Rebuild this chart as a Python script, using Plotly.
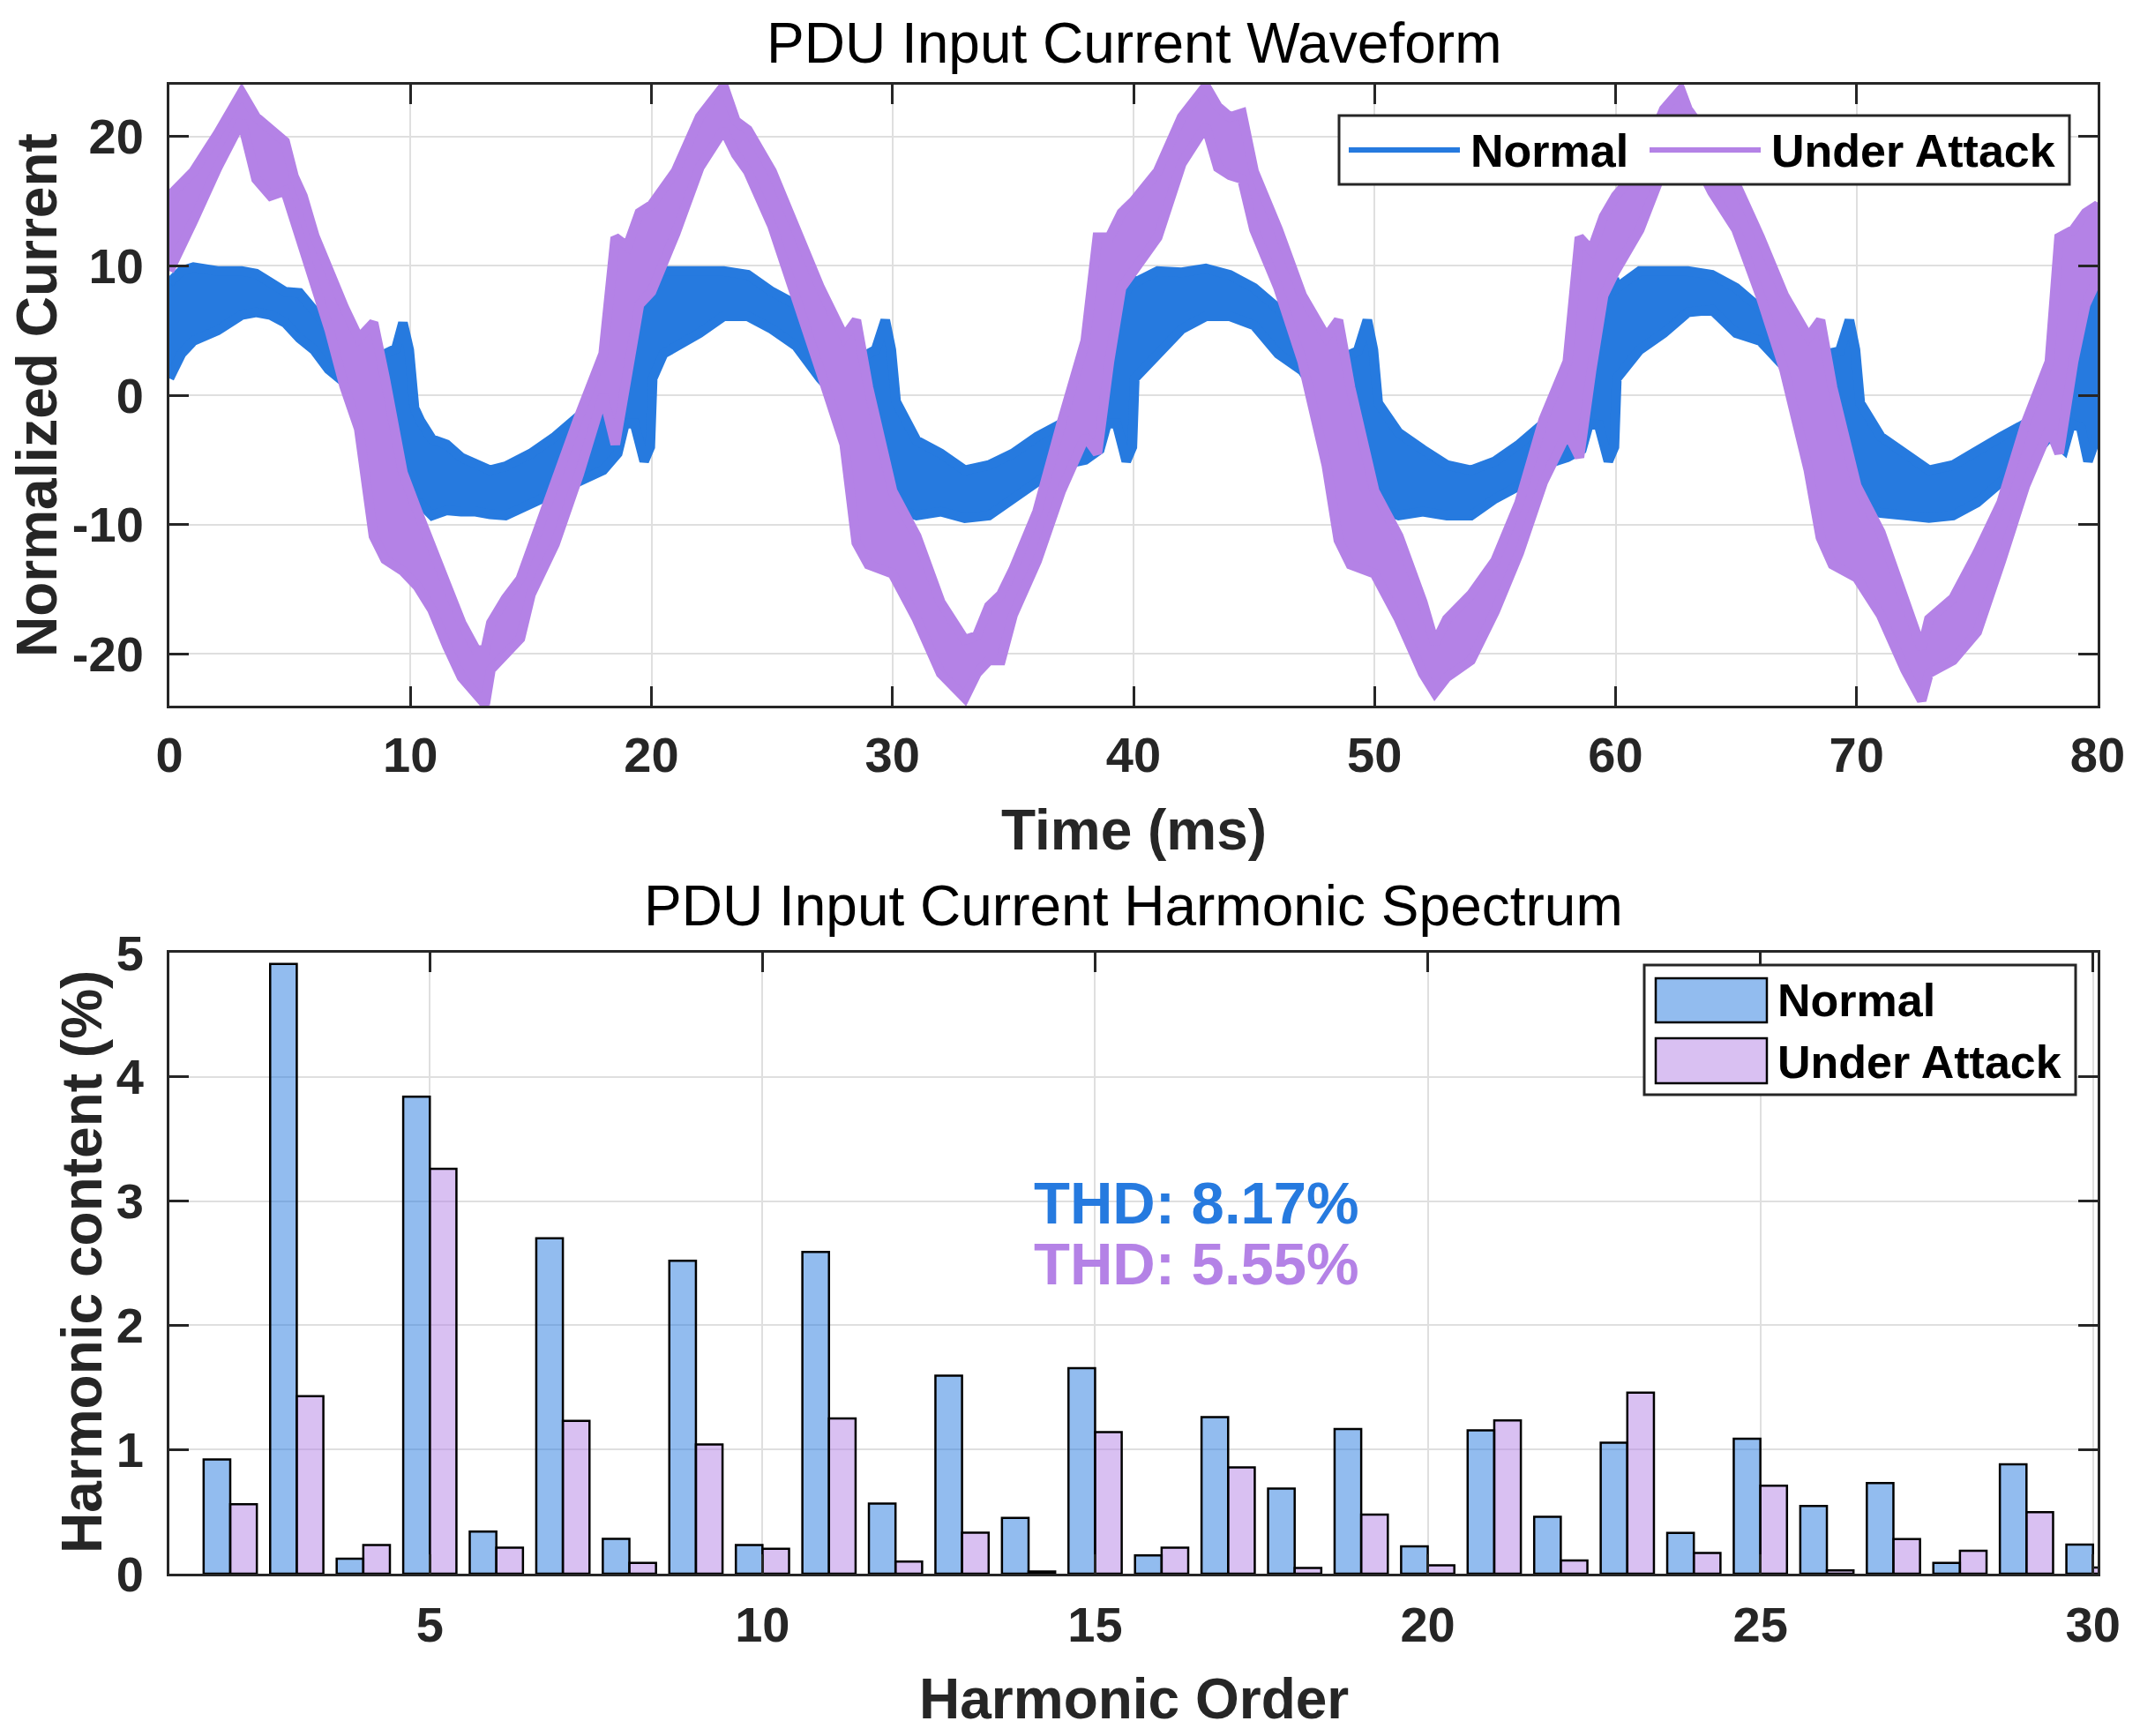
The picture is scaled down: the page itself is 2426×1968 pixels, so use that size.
import plotly.graph_objects as go

# ---------------- data ----------------
# Normal waveform: upper / lower envelope of the noisy trace (ms, normalized current)
t_norm = [0, 0.5, 1, 2, 3, 3.6, 4.2, 4.8, 5.4, 6.0, 6.6, 7.25, 7.6, 8, 8.5, 8.95, 9.4, 9.69, 9.95, 10.17, 10.42, 10.9, 11.5, 12.1, 12.7, 13.3, 13.95, 14.56, 15, 16, 17, 18, 18.6, 18.9, 19.3, 19.7, 19.95,
          20.05, 20.5, 21, 22, 23, 24, 25, 26, 27, 27.5, 28, 28.7, 29.3, 29.7, 29.95, 30.15, 30.5, 31, 32, 33, 34, 35, 36, 37, 38, 38.6, 38.9, 39.3, 39.7, 39.95,
          40.05, 41, 42, 43, 44, 45, 46, 47, 47.5, 48, 48.7, 49.3, 49.7, 49.95, 50.15, 51, 52, 53, 54, 55, 56, 57, 58, 58.6, 58.9, 59.3, 59.7, 59.95,
          60.05, 61, 62, 63, 64, 65, 66, 67, 67.5, 68, 68.8, 69.3, 69.7, 69.95, 70.15, 71, 72, 73, 74, 75, 76, 77, 78, 78.6, 78.9, 79.3, 79.6, 80]
norm_hi = [8.7, 9.6, 9.9, 9.6, 9.6, 9.4, 8.7, 8.0, 7.9, 6.5, 5.3, 3.8, 3.0, 2.4, 2.5, 3.2, 3.6, 5.6, 3.5, -1.0, -2.0, -3.4, -3.8, -4.8, -5.4, -5.8, -5.5, -4.9, -4.5, -3.2, -1.6, -1.8, -1.5, 5.1, 7.5, 8.5, 9.0,
           9.6, 9.6, 9.5, 9.5, 9.6, 9.3, 8.0, 7.0, 4.5, 2.6, 2.0, 2.9, 3.5, 5.8, 3.5, -0.5, -1.9, -3.5, -4.5, -5.8, -5.4, -4.5, -3.2, -2.2, -2.0, -1.8, 5.1, 7.0, 8.0, 9.0,
           8.7, 9.6, 9.5, 9.8, 9.3, 8.3, 6.7, 4.5, 3.0, 2.2, 2.9, 3.4, 5.8, 3.5, -0.6, -2.9, -4.2, -5.4, -5.8, -5.1, -3.8, -2.2, -2.0, -1.8, 5.0, 7.2, 8.2, 9.0,
           8.3, 9.6, 9.6, 9.6, 9.3, 8.3, 6.7, 5.1, 3.5, 2.5, 3.2, 3.4, 5.8, 3.5, -0.6, -3.2, -4.5, -5.8, -5.4, -4.2, -3.2, -2.2, -1.8, -1.8, 4.5, 6.5, 7.8, 8.5]
norm_lo = [1.3, 3.2, 4.2, 5.0, 6.2, 6.4, 6.2, 5.6, 4.4, 3.5, 2.0, 1.0, -0.2, -2.0, -5.5, -7.5, -8.0, -8.2, -8.2, -8.4, -8.4, -9.3, -8.9, -9.0, -9.0, -9.2, -9.3, -8.7, -8.3, -7.4, -6.7, -5.8, -4.5, -2.2, -2.2, -5.1, -4.0,
           1.3, 3.2, 3.8, 4.8, 6.1, 6.1, 5.1, 3.8, 1.3, 0.3, -1.5, -7.0, -7.8, -8.0, -8.2, -8.3, -9.0, -9.3, -9.0, -9.5, -9.3, -8.0, -6.7, -5.4, -5.0, -4.2, -2.2, -2.2, -5.1, -4.0,
           1.3, 3.2, 5.1, 6.1, 6.1, 5.4, 3.2, 1.9, 0.5, -1.5, -7.0, -7.8, -8.0, -8.2, -8.7, -9.3, -9.0, -9.3, -9.3, -8.0, -7.0, -5.4, -4.8, -4.2, -2.2, -2.3, -5.1, -4.0,
           1.3, 3.5, 4.8, 6.4, 6.6, 4.8, 4.2, 2.2, 0.5, -1.5, -7.0, -7.8, -8.0, -8.2, -8.7, -9.1, -9.3, -9.5, -9.3, -8.3, -6.7, -5.4, -3.2, -4.2, -2.2, -2.5, -5.1, -3.0]

# Under-attack waveform envelope
t_att = [0, 1, 2, 3, 3.6, 4.2, 4.8, 5.17, 5.54, 6.03, 6.64, 7.25, 7.86, 8.47, 8.95, 9.69, 10.3, 10.9, 11.52, 12.12, 12.73, 13.1, 13.34, 13.95, 14.56, 15, 16, 17, 18, 18.5, 19, 19.5,
         20, 21, 22, 23, 23.5, 24, 25, 26, 27, 28, 28.5, 29, 30, 31, 32, 33, 33.5, 34, 34.5, 35, 36, 37, 38, 38.5, 39, 39.5,
         40, 41, 42, 43, 43.5, 44, 44.5, 45, 46, 47, 48, 48.5, 49, 50, 51, 52, 52.5, 53, 54, 55, 56, 57, 58, 58.5, 59, 59.5,
         60, 61, 62, 62.7, 63, 64, 65, 66, 67, 68, 68.5, 69, 70, 71, 72, 72.7, 73, 74, 75, 76, 77, 78, 78.4, 79, 79.5, 80]
att_hi = [15.4, 17.3, 20.2, 23.4, 21.5, 20.5, 19.6, 16.9, 15.4, 12.3, 9.3, 6.8, 4.4, 5.6, 1.3, -6.0, -9.0, -11.8, -14.8, -17.6, -19.7, -19.7, -17.6, -15.7, -14.2, -11.9, -6.7, -1.6, 3.2, 12.2, 11.5, 14.1,
          14.7, 17.3, 21.5, 23.9, 21.2, 20.5, 17.3, 12.8, 8.3, 4.5, 5.8, 0.6, -7.4, -10.9, -16.0, -18.9, -18.6, -16.3, -15.4, -13.5, -9.0, -2.2, 4.2, 12.2, 12.2, 14.1,
          15.0, 17.3, 21.5, 23.9, 22.3, 21.5, 21.8, 17.3, 12.8, 7.7, 4.5, 5.8, 0.6, -7.4, -10.9, -16.0, -19.2, -17.3, -15.4, -12.8, -8.3, -1.9, 2.6, 12.2, 11.2, 13.8,
          15.4, 17.6, 22.1, 23.6, 22.1, 19.5, 16.3, 12.2, 7.7, 4.5, 5.8, 0.6, -7.0, -10.6, -16.0, -19.6, -17.3, -15.7, -12.2, -8.3, -2.2, 2.6, 12.2, 12.8, 14.1, 14.7]
att_lo = [9.6, 13.5, 17.6, 21.2, 16.7, 15.4, 15.8, 13.5, 11.7, 8.4, 5.0, 0.7, -2.6, -10.9, -12.7, -13.6, -14.8, -16.6, -19.4, -21.8, -23.0, -23.9, -21.2, -20.0, -18.8, -15.4, -11.5, -6.1, 0.0, -3.8, 1.0, 7.0,
          8.0, 12.5, 17.6, 20.5, 18.6, 17.3, 13.1, 7.7, 1.9, -3.8, -11.4, -13.1, -13.8, -17.3, -21.5, -23.4, -21.5, -20.5, -20.5, -17.0, -12.8, -7.4, -3.2, -4.5, 2.6, 8.3,
          9.6, 12.2, 17.9, 20.8, 17.6, 17.0, 16.7, 12.8, 8.3, 2.6, -5.4, -11.2, -13.1, -13.8, -17.3, -21.5, -23.0, -21.8, -20.5, -16.7, -12.2, -6.7, -2.9, -4.8, 1.9, 7.7,
          9.6, 12.8, 17.6, 20.5, 19.2, 15.7, 12.8, 7.7, 1.9, -5.8, -11.0, -13.1, -14.1, -17.0, -21.2, -23.6, -21.5, -20.5, -18.3, -12.8, -7.0, -2.6, -4.5, 2.6, 7.0, 9.0]

# Harmonic spectrum (%)
harmonics = list(range(2, 31))
harm_normal = [0.92, 4.91, 0.12, 3.84, 0.34, 2.70, 0.28, 2.52, 0.23, 2.59, 0.565, 1.595, 0.45, 1.655, 0.147,
               1.26, 0.686, 1.164, 0.22, 1.154, 0.458, 1.054, 0.328, 1.087, 0.545, 0.729, 0.087, 0.88, 0.234]
harm_attack = [0.56, 1.43, 0.23, 3.26, 0.21, 1.23, 0.087, 1.04, 0.20, 1.25, 0.097, 0.33, 0.017, 1.14, 0.21,
               0.856, 0.047, 0.475, 0.067, 1.234, 0.107, 1.458, 0.167, 0.709, 0.027, 0.278, 0.184, 0.495, 0.05]

thd_labels = ["THD: 8.17%", "THD: 5.55%"]
series_names = ["Normal", "Under Attack"]
wave_xticks = list(range(0, 81, 10))
wave_yticks = [-20, -10, 0, 10, 20]
wave_yticktext = ["-20", "-10", "0", "10", "20"]
harm_xticks = [5, 10, 15, 20, 25, 30]
harm_yticks = [0, 1, 2, 3, 4, 5]

# ---------------- styling ----------------
W, H = 2426, 1968
ML, MR, MT, MB = 192, 48, 96, 184
PW, PH = W - ML - MR, H - MT - MB
BLUE = "#267ADF"
PURPLE = "#B482E6"
BLUE_A = "rgba(38,122,224,0.5)"
PURPLE_A = "rgba(180,130,230,0.5)"
AX = "#262626"
GRID = "#DFDFDF"
FONT = "Liberation Sans"


def px(x):
    return (x - ML) / PW


def py(y):
    return (H - MB - y) / PH


fig = go.Figure()

# waveform bands (normal drawn first, attack on top)
fig.add_trace(go.Scatter(
    x=t_norm + t_norm[::-1], y=norm_hi + norm_lo[::-1], mode="lines", fill="toself",
    fillcolor=BLUE, line=dict(color=BLUE, width=11), name=series_names[0],
    xaxis="x", yaxis="y", showlegend=False, hoverinfo="skip"))
fig.add_trace(go.Scatter(
    x=t_att + t_att[::-1], y=att_hi + att_lo[::-1], mode="lines", fill="toself",
    fillcolor=PURPLE, line=dict(color=PURPLE, width=11), name=series_names[1],
    xaxis="x", yaxis="y", showlegend=False, hoverinfo="skip"))

# harmonic bars
fig.add_trace(go.Bar(x=harmonics, y=harm_normal, name=series_names[0], xaxis="x2", yaxis="y2",
                     marker=dict(color=BLUE_A, line=dict(color="black", width=2.5)), showlegend=False))
fig.add_trace(go.Bar(x=harmonics, y=harm_attack, name=series_names[1], xaxis="x2", yaxis="y2",
                     marker=dict(color=PURPLE_A, line=dict(color="black", width=2.5)), showlegend=False))

axis_common = dict(
    showline=True, linecolor=AX, linewidth=3, mirror="ticks",
    ticks="inside", ticklen=22, tickwidth=3, tickcolor=AX,
    showgrid=True, gridcolor=GRID, gridwidth=2, zeroline=False,
    tickfont=dict(family=FONT, size=56, color=AX, weight="bold"),
)

top_dom = [py(800), 1.0]
bot_dom = [0.0, py(1080)]

fig.update_layout(
    width=W, height=H,
    margin=dict(l=ML, r=MR, t=MT, b=MB, pad=0),
    paper_bgcolor="white", plot_bgcolor="white",
    barmode="group", bargap=0.2, bargroupgap=0.0,
    showlegend=False,
    xaxis=dict(domain=[0, 1], anchor="y", range=[0, 80], tickmode="array", tickvals=wave_xticks,
               ticklabelstandoff=5, **axis_common),
    yaxis=dict(domain=top_dom, anchor="x", range=[-24, 24], tickmode="array", tickvals=wave_yticks,
               ticktext=wave_yticktext, ticklabelstandoff=15, **axis_common),
    xaxis2=dict(domain=[0, 1], anchor="y2", range=[1.085, 30.07], tickmode="array", tickvals=harm_xticks,
                ticklabelstandoff=7, **axis_common),
    yaxis2=dict(domain=bot_dom, anchor="x2", range=[0, 5], tickmode="array", tickvals=harm_yticks,
                ticklabelstandoff=15, **axis_common),
)

ann = []
# chart titles
ann.append(dict(text="PDU Input Current Waveform", x=0.5, y=py(49), xref="paper", yref="paper",
                xanchor="center", yanchor="middle", showarrow=False,
                font=dict(family=FONT, size=64, color="black")))
ann.append(dict(text="PDU Input Current Harmonic Spectrum", x=0.5, y=py(1027), xref="paper", yref="paper",
                xanchor="center", yanchor="middle", showarrow=False,
                font=dict(family=FONT, size=64, color="black")))
# axis titles
title_font = dict(family=FONT, size=64, color=AX, weight="bold")
ann.append(dict(text="Time (ms)", x=0.5, y=py(941), xref="paper", yref="paper", xanchor="center",
                yanchor="middle", showarrow=False, font=title_font))
ann.append(dict(text="Harmonic Order", x=0.5, y=py(1926), xref="paper", yref="paper", xanchor="center",
                yanchor="middle", showarrow=False, font=title_font))
ann.append(dict(text="Normalized Current", x=px(42), y=py(448), xref="paper", yref="paper", xanchor="center",
                yanchor="middle", textangle=-90, showarrow=False, font=title_font))
ann.append(dict(text="Harmonic content (%)", x=px(93), y=py(1431), xref="paper", yref="paper", xanchor="center",
                yanchor="middle", textangle=-90, showarrow=False, font=title_font))
# THD annotations
ann.append(dict(text=thd_labels[0], x=px(1170), y=py(1363), xref="paper", yref="paper", xanchor="left",
                yanchor="middle", showarrow=False, font=dict(family=FONT, size=67, color=BLUE, weight="bold")))
ann.append(dict(text=thd_labels[1], x=px(1170), y=py(1432), xref="paper", yref="paper", xanchor="left",
                yanchor="middle", showarrow=False, font=dict(family=FONT, size=67, color=PURPLE, weight="bold")))

leg_font = dict(family=FONT, size=52, color="black", weight="bold")
# top legend text
ann.append(dict(text=series_names[0], x=px(1665), y=py(171), xref="paper", yref="paper", xanchor="left",
                yanchor="middle", showarrow=False, font=leg_font))
ann.append(dict(text=series_names[1], x=px(2006), y=py(171), xref="paper", yref="paper", xanchor="left",
                yanchor="middle", showarrow=False, font=leg_font))
# bottom legend text
ann.append(dict(text=series_names[0], x=px(2013), y=py(1134), xref="paper", yref="paper", xanchor="left",
                yanchor="middle", showarrow=False, font=leg_font))
ann.append(dict(text=series_names[1], x=px(2013), y=py(1204), xref="paper", yref="paper", xanchor="left",
                yanchor="middle", showarrow=False, font=leg_font))
fig.update_layout(annotations=ann)

shapes = []
# top legend box and line samples
shapes.append(dict(type="rect", xref="paper", yref="paper", x0=px(1518), x1=px(2346), y0=py(209), y1=py(131),
                   line=dict(color=AX, width=3), fillcolor="white", layer="above"))
shapes.append(dict(type="line", xref="paper", yref="paper", x0=px(1529), x1=px(1655), y0=py(170), y1=py(170),
                   line=dict(color=BLUE, width=6), layer="above"))
shapes.append(dict(type="line", xref="paper", yref="paper", x0=px(1870), x1=px(1996), y0=py(170), y1=py(170),
                   line=dict(color=PURPLE, width=6), layer="above"))
# bottom legend box and patches
shapes.append(dict(type="rect", xref="paper", yref="paper", x0=px(1864), x1=px(2353), y0=py(1241), y1=py(1094),
                   line=dict(color=AX, width=3), fillcolor="white", layer="above"))
shapes.append(dict(type="rect", xref="paper", yref="paper", x0=px(1877), x1=px(2003), y0=py(1159), y1=py(1109),
                   line=dict(color="black", width=2.5), fillcolor=BLUE_A, layer="above"))
shapes.append(dict(type="rect", xref="paper", yref="paper", x0=px(1877), x1=px(2003), y0=py(1228), y1=py(1177),
                   line=dict(color="black", width=2.5), fillcolor=PURPLE_A, layer="above"))
fig.update_layout(shapes=shapes)

fig.write_html("out.html")
